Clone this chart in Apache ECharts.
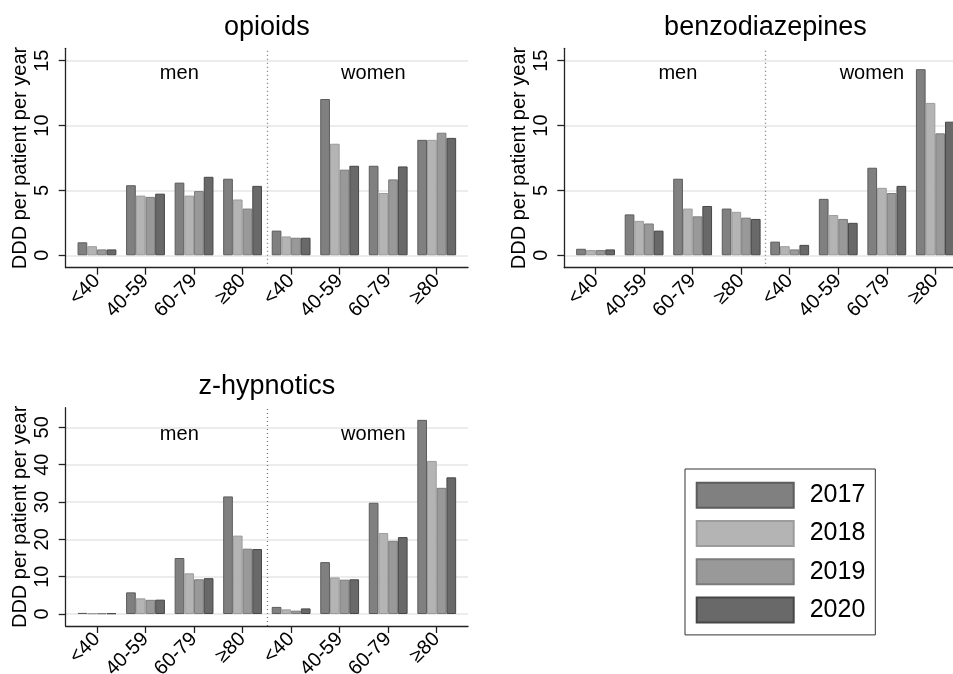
<!DOCTYPE html>
<html>
<head>
<meta charset="utf-8">
<script src="https://cdn.jsdelivr.net/npm/echarts@6/dist/echarts.min.js"></script>
<style>html,body{margin:0;padding:0;background:#fff;}#c{width:953px;height:674px;}</style>
</head>
<body>
<div id="c"></div>
<script>
// ---- data ----
const categories = ['<40', '40-59', '60-79', '≥80', '<40', '40-59', '60-79', '≥80'];
const years = ['2017', '2018', '2019', '2020'];
const groupLabels = ['men', 'women'];
const axisTitle = 'DDD per patient per year';

const opioids2017 = [1.0, 5.4, 5.6, 5.9, 1.9, 12.05, 6.9, 8.9];
const opioids2018 = [0.7, 4.6, 4.6, 4.3, 1.45, 8.6, 4.8, 8.9];
const opioids2019 = [0.45, 4.5, 4.95, 3.6, 1.35, 6.6, 5.85, 9.45];
const opioids2020 = [0.45, 4.75, 6.05, 5.35, 1.35, 6.9, 6.85, 9.05];

const benzo2017 = [0.5, 3.15, 5.9, 3.6, 1.05, 4.35, 6.75, 14.35];
const benzo2018 = [0.4, 2.65, 3.6, 3.35, 0.7, 3.1, 5.2, 11.75];
const benzo2019 = [0.4, 2.45, 3.0, 2.9, 0.45, 2.8, 4.8, 9.4];
const benzo2020 = [0.45, 1.9, 3.8, 2.8, 0.8, 2.5, 5.35, 10.3];

const zhyp2017 = [0.3, 5.8, 15.0, 31.5, 1.9, 13.9, 29.8, 52.0];
const zhyp2018 = [0.2, 4.2, 10.9, 21.0, 1.25, 9.8, 21.7, 41.0];
const zhyp2019 = [0.2, 3.8, 9.3, 17.5, 0.9, 9.2, 19.6, 33.8];
const zhyp2020 = [0.2, 3.85, 9.6, 17.4, 1.5, 9.3, 20.6, 36.6];

const ticks15 = [0, 5, 10, 15];
const ticks50 = [0, 10, 20, 30, 40, 50];

// ---- styles ----
const FONT = "'Liberation Sans', Arial, Helvetica, sans-serif";
const fills = ['#808080', '#b4b4b4', '#999999', '#696969'];
const borders = ['#5c5c5c', '#9c9c9c', '#7c7c7c', '#474747'];
const AX = {color: '#222', width: 1.3};

const panels = [
  {title: 'opioids', data: [opioids2017, opioids2018, opioids2019, opioids2020], ticks: ticks15,
   min: -0.96, max: 15.96, left: 65.7, top: 48.3, height: 219.4, titleTop: 14, labelY: 73},
  {title: 'benzodiazepines', data: [benzo2017, benzo2018, benzo2019, benzo2020], ticks: ticks15,
   min: -0.96, max: 15.96, left: 564.3, top: 48.3, height: 219.4, titleTop: 14, labelY: 73},
  {title: 'z-hypnotics', data: [zhyp2017, zhyp2018, zhyp2019, zhyp2020], ticks: ticks50,
   min: -3.21, max: 55.26, left: 65.7, top: 407.7, height: 218.3, titleTop: 373, labelY: 434}
];
const W = 402.3, INSET = 7;

const grid = [], xAxis = [], yAxis = [], series = [], title = [], graphic = [];
panels.forEach((p, i) => {
  const bg = 2 * i, fg = 2 * i + 1;
  grid.push({left: p.left, top: p.top, width: W, height: p.height, outerBoundsMode: 'none', containLabel: false});
  grid.push({left: p.left + INSET, top: p.top, width: W - 2 * INSET, height: p.height, outerBoundsMode: 'none', containLabel: false});
  xAxis.push({gridIndex: bg, type: 'value', min: 0, max: 1,
    axisLine: {show: true, onZero: false, lineStyle: AX}, axisTick: {show: false},
    axisLabel: {show: false}, splitLine: {show: false}});
  xAxis.push({gridIndex: fg, type: 'category', data: categories,
    axisLine: {show: false, onZero: false}, axisTick: {show: true, alignWithLabel: true, length: 7, lineStyle: AX},
    axisLabel: {interval: 0, rotate: 45, margin: 10, fontSize: 20, color: '#000', fontFamily: FONT},
    splitLine: {show: false}});
  yAxis.push({gridIndex: bg, type: 'value', min: p.min, max: p.max,
    name: axisTitle, nameLocation: 'middle', nameGap: 35,
    nameTextStyle: {fontSize: 20, color: '#000', fontFamily: FONT},
    axisLine: {show: true, onZero: false, lineStyle: AX},
    axisTick: {show: true, length: 7, customValues: p.ticks, lineStyle: AX},
    axisLabel: {customValues: p.ticks, rotate: 90, margin: 13, fontSize: 20, color: '#000', fontFamily: FONT},
    splitLine: {show: false}});
  yAxis.push({gridIndex: fg, type: 'value', min: p.min, max: p.max, show: false, splitLine: {show: false}});

  series.push({type: 'line', xAxisIndex: bg, yAxisIndex: bg, data: [[0.5, 0]], symbol: 'none',
    lineStyle: {opacity: 0}, silent: true, z: 0,
    markLine: {z: 0, symbol: ['none', 'none'], silent: true, animation: false, label: {show: false},
      data: p.ticks.map(t => ({yAxis: t, lineStyle: {color: '#e6e6e6', width: 1.5, type: 'solid'}}))
        .concat([{xAxis: 0.5, lineStyle: {color: '#777', width: 1.3, type: [1, 3]}}])}});

  p.data.forEach((vals, k) => {
    series.push({type: 'bar', name: years[k], xAxisIndex: fg, yAxisIndex: fg, data: vals,
      barGap: '0%', barCategoryGap: '20%', z: 3, animation: false,
      itemStyle: {color: fills[k], borderColor: borders[k], borderWidth: 1}});
  });

  title.push({text: p.title, left: p.left + W / 2, top: p.titleTop, textAlign: 'center', padding: 0,
    textStyle: {fontSize: 27, fontWeight: 'normal', color: '#000', fontFamily: FONT}});

  graphic.push({type: 'text', x: p.left + 113.6, y: p.labelY,
    style: {text: groupLabels[0], fontSize: 20, fontFamily: FONT, fill: '#000', align: 'center', verticalAlign: 'middle'}});
  graphic.push({type: 'text', x: p.left + 307.6, y: p.labelY,
    style: {text: groupLabels[1], fontSize: 20, fontFamily: FONT, fill: '#000', align: 'center', verticalAlign: 'middle'}});
});

const chart = echarts.init(document.getElementById('c'), null, {renderer: 'canvas'});
chart.setOption({
  backgroundColor: '#fff',
  animation: false,
  title, grid, xAxis, yAxis, series, graphic,
  legend: {data: years, orient: 'vertical', left: 685, top: 469, icon: 'rect',
    itemWidth: 97, itemHeight: 25, itemGap: 11.3, padding: [12.7, 10, 11.3, 10.7],
    borderColor: '#333', borderWidth: 1, selectedMode: false,
    textStyle: {fontSize: 25, color: '#000', fontFamily: FONT, padding: [0, 0, 0, 11]}}
});
</script>
</body>
</html>
